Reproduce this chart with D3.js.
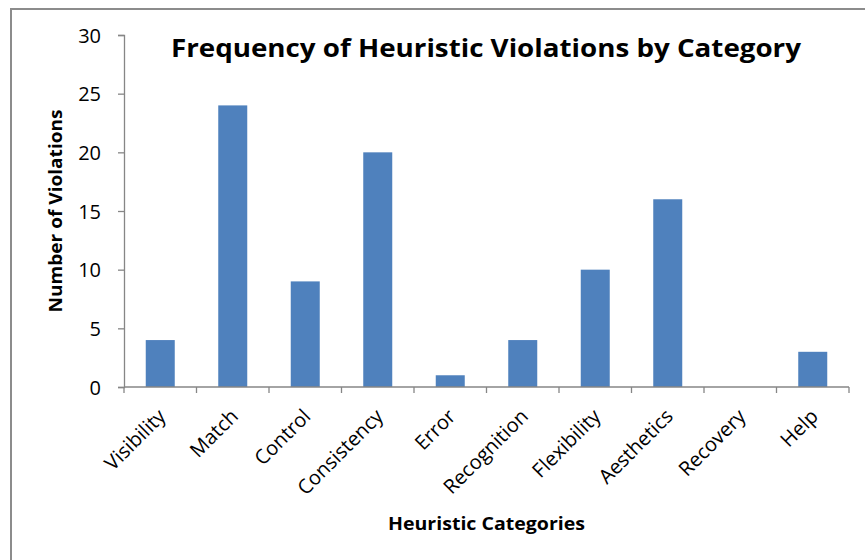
<!DOCTYPE html>
<html><head><meta charset="utf-8">
<script src="https://cdn.jsdelivr.net/npm/d3@7"></script>
<style>body{margin:0;background:#fff}svg{display:block}text{font-family:"Open Sans","DejaVu Sans",sans-serif}</style>
</head><body>
<svg id="c" width="865" height="560"></svg>
<script>
const categories = ["Visibility","Match","Control","Consistency","Error","Recognition","Flexibility","Aesthetics","Recovery","Help"];
const violations = [4,24,9,20,1,4,10,16,0,3];
const yTicks = [0,5,10,15,20,25,30];
const titleText = "Frequency of Heuristic Violations by Category";
const xTitle = "Heuristic Categories";
const yTitle = "Number of Violations";

const svg = d3.select("#c");
svg.append("rect").attr("x",11).attr("y",9).attr("width",900).attr("height",700)
  .attr("fill","#fff").attr("stroke","#8c8c8c").attr("stroke-width",2);

const pL=124,pR=849,pT=35,pB=387;
const x = d3.scaleBand().domain(categories).range([pL,pR]).paddingInner(0.6).paddingOuter(0.3);
const xb = d3.scaleBand().domain(categories).range([pL,pR]);
const y = d3.scaleLinear().domain([0,30]).range([pB,pT]);

svg.selectAll("rect.bar").data(violations).join("rect").attr("class","bar")
  .attr("x",(d,i)=>x(categories[i])).attr("width",x.bandwidth())
  .attr("y",d=>y(d)).attr("height",d=>y(0)-y(d)).attr("fill","#4F81BD");

const axisColor="#868686";
const ya = svg.append("g").attr("transform",`translate(${pL},0)`)
  .call(d3.axisLeft(y).tickValues(yTicks).tickSize(6).tickPadding(8));
ya.attr("font-size",null).attr("font-family",null);
ya.select(".domain").attr("stroke",axisColor).attr("stroke-width",1.3);
ya.selectAll(".tick line").attr("stroke",axisColor).attr("stroke-width",1.3);
ya.selectAll(".tick text").style("font-size","20px").attr("fill","#000").attr("x",-23).attr("dy","0.35em");

const xa = svg.append("g").attr("transform",`translate(0,${pB})`);
xa.append("line").attr("x1",pL).attr("x2",pR).attr("stroke",axisColor).attr("stroke-width",1.3);
const edges = categories.map(c=>xb(c)).concat([pR]);
xa.selectAll("line.t").data(edges).join("line").attr("class","t")
  .attr("x1",d=>d).attr("x2",d=>d).attr("y1",0).attr("y2",6).attr("stroke",axisColor).attr("stroke-width",1.3);
xa.selectAll("text").data(categories).join("text")
  .attr("transform",c=>`translate(${xb(c)+xb.bandwidth()/2-4},${20}) rotate(-45)`)
  .attr("text-anchor","end").attr("dy","0.75em").style("font-size","20px").attr("fill","#000").text(c=>c);

svg.append("text").attr("x",486).attr("y",57).attr("text-anchor","middle")
  .style("font-size","25px").attr("font-weight","bold").attr("textLength",630).attr("lengthAdjust","spacingAndGlyphs").text(titleText);
svg.append("text").attr("x",486.5).attr("y",530).attr("text-anchor","middle")
  .style("font-size","17px").attr("font-weight","bold").attr("textLength",197).attr("lengthAdjust","spacingAndGlyphs").text(xTitle);
svg.append("text").attr("transform","translate(62,211) rotate(-90)").attr("text-anchor","middle")
  .style("font-size","17px").attr("font-weight","bold").attr("textLength",203).attr("lengthAdjust","spacingAndGlyphs").text(yTitle);
</script>
</body></html>
